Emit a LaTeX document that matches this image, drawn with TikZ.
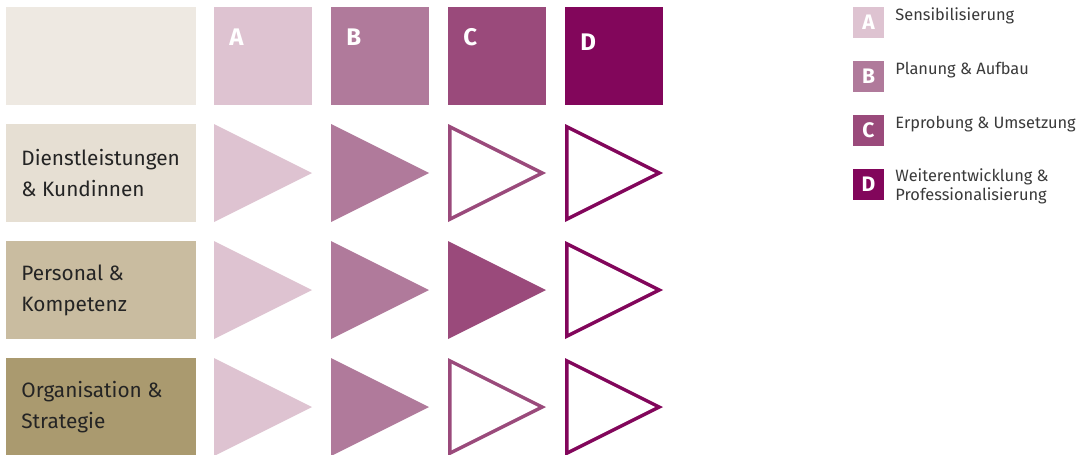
\documentclass[tikz,border=0pt]{standalone}
\usepackage{fontspec}
\setmainfont{Fira Sans}
\usetikzlibrary{positioning}
\definecolor{cbeige}{HTML}{EEE9E2}
\definecolor{crowa}{HTML}{E6DFD3}
\definecolor{crowb}{HTML}{C9BCA0}
\definecolor{crowc}{HTML}{AA9A6F}
\definecolor{cA}{HTML}{DEC3D1}
\definecolor{cB}{HTML}{B07A9B}
\definecolor{cC}{HTML}{9A4A7B}
\definecolor{cD}{HTML}{82065B}
\definecolor{ctext}{HTML}{242424}
\definecolor{cgrey}{HTML}{3A3A3A}
\tikzset{
  every picture/.style={x=0.5pt, y=-0.5pt},
  phase/.style={fill=#1, anchor=north west, minimum width=49pt, minimum height=49pt, inner sep=0pt},
  rowbox/.style={fill=#1, anchor=north west, minimum width=95pt, minimum height=49pt, inner sep=0pt},
  rowlabel/.style={anchor=west, align=left, text=ctext, inner sep=0pt, font=\fontsize{10.4}{15.5}\selectfont},
  letter/.style={anchor=west, text=white, inner sep=0pt, font=\fontsize{12}{12}\selectfont\bfseries},
  keybox/.style={fill=#1, minimum size=15.5pt, inner sep=0pt, text=white, font=\fontsize{10.5}{10.5}\selectfont\bfseries},
  keytext/.style={anchor=west, align=left, text=cgrey, inner sep=0pt, font=\fontsize{8.2}{9.5}\selectfont},
}

\begin{document}
\begin{tikzpicture}
  \useasboundingbox (0,0) rectangle (1082,455);
  % phase header
  \node[phase=cbeige, minimum width=95pt] (head) at (6,7) {};
  \node[phase=cA] (pa) at (214,7) {};
  \node[phase=cB] (pb) at (331,7) {};
  \node[phase=cC] (pc) at (448,7) {};
  \node[phase=cD] (pd) at (565,7) {};
  \node[letter] (la) at (229,37) {A};
  \node[letter] (lb) at (346,37) {B};
  \node[letter] (lc) at (463,37) {C};
  \node[letter] (ld) at (580,42) {D};
  % rows
  \node[rowbox=crowa] (r1) at (6,124) {};
  \node[rowbox=crowb] (r2) at (6,241) {};
  \node[rowbox=crowc] (r3) at (6,358) {};
  \node[rowlabel] (t1) at (21,173) {Dienstleistungen\\\& Kundinnen};
  \node[rowlabel] (t2) at (21,290) {Personal \&\\Kompetenz};
  \node[rowlabel] (t3) at (21,407) {Organisation \&\\Strategie};
  % triangles, then cut out the open ones
  \foreach \t in {124,241,358}
    \foreach \x/\c in {214/cA, 331/cB, 448/cC, 565/cD}
      \fill[\c] (\x,\t) -- ++(0,98) -- ++(98,-49) -- cycle;
  \foreach \x/\t in {448/124, 565/124, 565/241, 448/358, 565/358}
    \fill[white] (\x+3.5,\t+5.67) -- ++(0,86.66) -- ++(86.67,-43.33) -- cycle;
  % legend
  \node[keybox=cA] (ka) at (868.5,22.5) {A};
  \node[keybox=cB] (kb) at (868.5,76.5) {B};
  \node[keybox=cC] (kc) at (868.5,130.5) {C};
  \node[keybox=cD] (kd) at (868.5,184.5) {D};
  \node[keytext] (ea) at (895,16) {Sensibilisierung};
  \node[keytext] (eb) at (895,70) {Planung \& Aufbau};
  \node[keytext] (ec) at (895,124) {Erprobung \& Umsetzung};
  \node[keytext] (ed) at (895,186) {Weiterentwicklung \&\\Professionalisierung};
\end{tikzpicture}
\end{document}
